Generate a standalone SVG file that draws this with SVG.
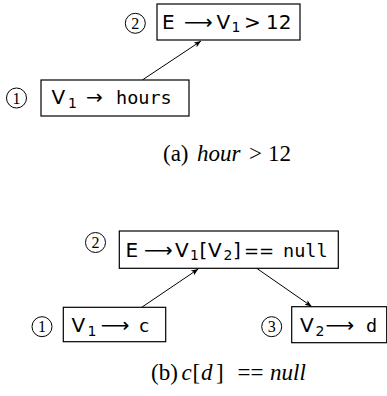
<svg xmlns="http://www.w3.org/2000/svg" width="387" height="396" viewBox="0 0 387 396">
<defs>
<style>
.box{fill:#fff;stroke:#000;stroke-width:1.2}
.circ{fill:none;stroke:#000;stroke-width:1}
.num{font-family:"Liberation Serif",serif;font-size:16px;text-anchor:middle}
.s{font-family:"DejaVu Sans",sans-serif;font-size:20px}
.ar{font-family:"DejaVu Sans",sans-serif;font-size:20px}
.sub{font-family:"DejaVu Sans",sans-serif;font-size:14px}
.m{font-family:"DejaVu Sans Mono",monospace;font-size:18.5px}
.cap{font-family:"Liberation Serif",serif;font-size:23px}
.it{font-style:italic}
.edge{stroke:#000;stroke-width:1;fill:none;marker-end:url(#ah)}
</style>
<marker id="ah" viewBox="0 0 10 10" refX="10" refY="5" markerWidth="7" markerHeight="7" orient="auto" markerUnits="userSpaceOnUse">
<path d="M0,1 L10,5 L0,9 L2.5,5 Z" fill="#000"/>
</marker>
</defs>

<g id="connectors">
<line class="edge" x1="142.3" y1="80" x2="201" y2="41"/>
<line class="edge" x1="141.7" y1="307.3" x2="198.3" y2="269"/>
<line class="edge" x1="256.7" y1="268.3" x2="311.7" y2="306.5"/>
</g>

<g id="a-node2">
<circle class="circ" cx="135.3" cy="23.3" r="10"/>
<text class="num" x="135.3" y="29">2</text>
<rect class="box" x="157" y="4" width="143" height="36"/>
<text class="s" x="162" y="28.7">E</text>
<text class="ar" x="184" y="28.7">⟶</text>
<text class="s" x="216.5" y="28.7">V</text>
<text class="sub" x="231.5" y="32">1</text>
<text class="s" x="244" y="28.7">&gt;</text>
<text class="s" x="266" y="28.7">12</text>
</g>

<g id="a-node1">
<circle class="circ" cx="16.5" cy="98" r="10"/>
<text class="num" x="16.5" y="103.7">1</text>
<rect class="box" x="41" y="80" width="148" height="36"/>
<text class="s" x="51.5" y="104.3">V</text>
<text class="sub" x="68" y="107.6">1</text>
<text class="ar" x="86" y="104.3">→</text>
<text class="m" x="116" y="104.3">hours</text>
</g>

<text class="cap" y="161"><tspan x="163">(a)</tspan><tspan class="it" x="197">hour</tspan><tspan x="249">&gt;</tspan><tspan x="268">12</tspan></text>

<g id="b-node2">
<circle class="circ" cx="95.5" cy="242.5" r="10"/>
<text class="num" x="95.5" y="248.2">2</text>
<rect class="box" x="119.3" y="231" width="219" height="37.3"/>
<text class="s" x="125.5" y="256.7">E</text>
<text class="ar" x="144" y="256.7">⟶</text>
<text class="s" x="175" y="256.7">V</text>
<text class="sub" x="190" y="260">1</text>
<text class="s" x="199.5" y="256.7">[</text>
<text class="s" x="208" y="256.7">V</text>
<text class="sub" x="223.5" y="260">2</text>
<text class="s" x="233" y="256.7">]</text>
<text class="s" x="244" y="256.7" style="font-size:18px">==</text>
<text class="m" x="283" y="256.7">null</text>
</g>

<g id="b-node1">
<circle class="circ" cx="42" cy="326.7" r="10"/>
<text class="num" x="42" y="332.4">1</text>
<rect class="box" x="63.3" y="307.3" width="102.4" height="34.4"/>
<text class="s" x="71.5" y="332.3">V</text>
<text class="sub" x="87.5" y="335.6">1</text>
<text class="ar" x="100.7" y="332.3">⟶</text>
<text class="m" x="138.5" y="332.3">c</text>
</g>

<g id="b-node3">
<circle class="circ" cx="271.7" cy="326.7" r="10"/>
<text class="num" x="271.7" y="332.4">3</text>
<rect class="box" x="291.7" y="306.7" width="95" height="36"/>
<text class="s" x="300" y="332.3">V</text>
<text class="sub" x="315.5" y="335.6">2</text>
<text class="ar" x="325.5" y="332.3">⟶</text>
<text class="m" x="366" y="332.3">d</text>
</g>

<text class="cap" y="380"><tspan x="151">(b)</tspan><tspan class="it" x="181.5">c</tspan><tspan x="192.5">[</tspan><tspan class="it" x="201">d</tspan><tspan x="216">]</tspan><tspan x="237.5">==</tspan><tspan class="it" x="270">null</tspan></text>
</svg>
